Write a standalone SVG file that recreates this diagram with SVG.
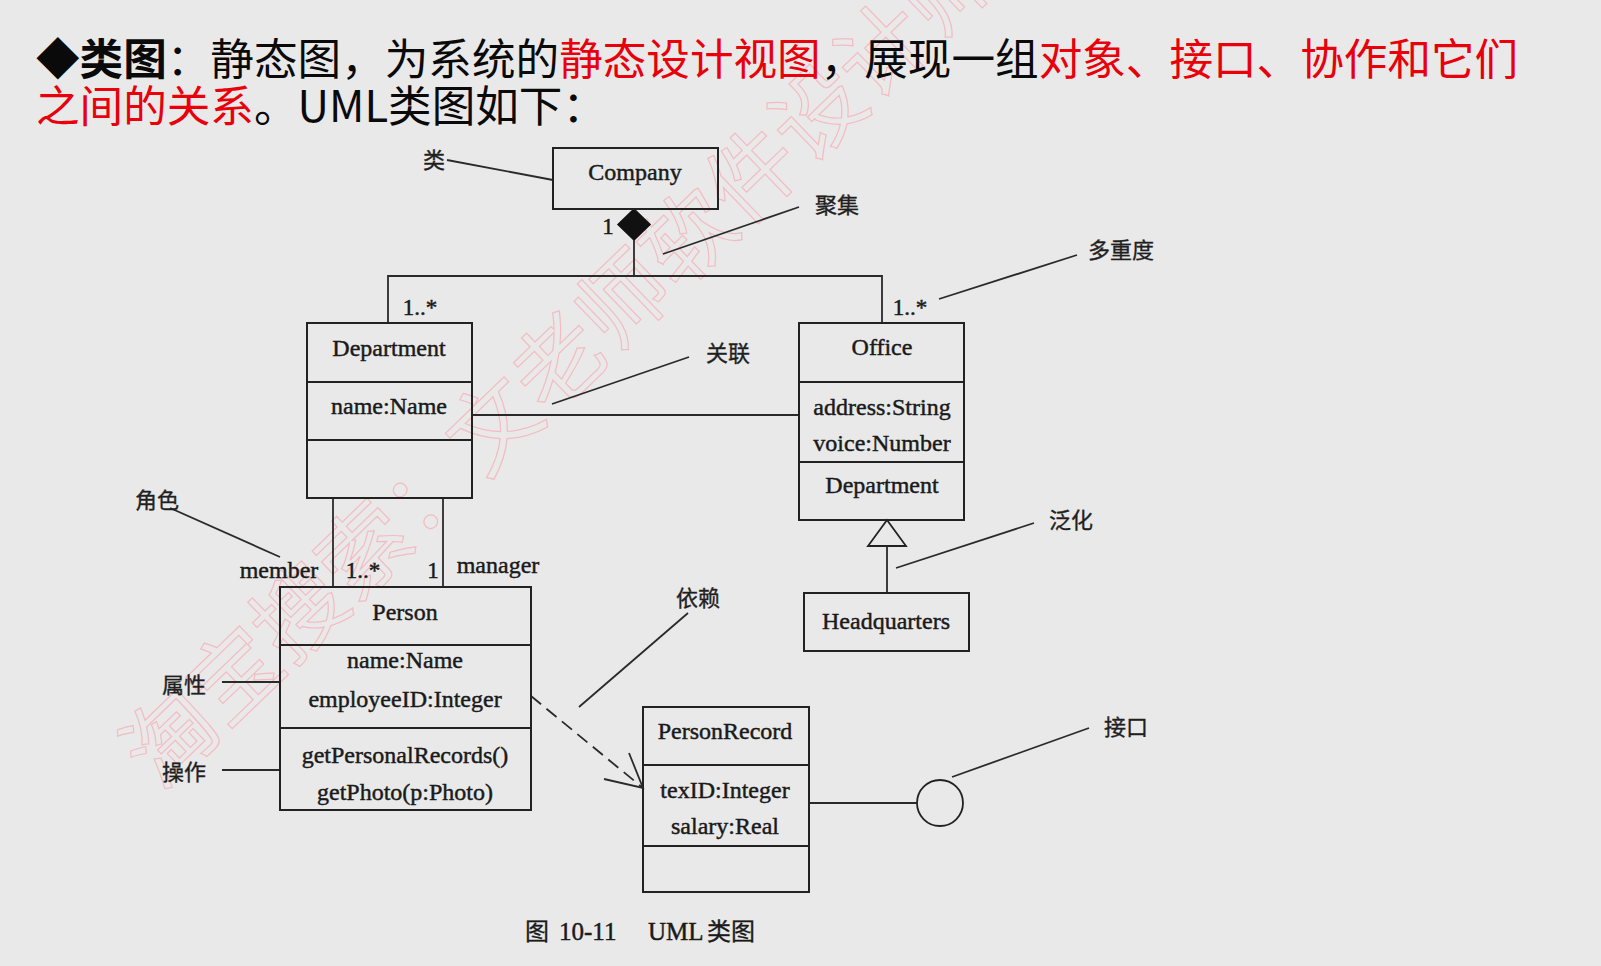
<svg xmlns="http://www.w3.org/2000/svg" width="1601" height="966" viewBox="0 0 1601 966">
<style>
.bx{fill:none;stroke:#222;stroke-width:2}
.ln{fill:none;stroke:#2a2a2a;stroke-width:1.8}
.t{font-family:"Liberation Serif","Times New Roman",serif;font-size:24px;fill:#1a1a1a;stroke:#1a1a1a;stroke-width:0.45;text-anchor:middle}
.m{font-family:"Liberation Serif","Times New Roman",serif;font-size:23px;fill:#1a1a1a;stroke:#1a1a1a;stroke-width:0.45}
.lb{font-family:"Noto Sans CJK SC",sans-serif;font-size:22px;fill:#1f1f1f;stroke:#1f1f1f;stroke-width:0.35;text-anchor:middle}
.ti{font-family:"Noto Sans CJK SC",sans-serif;font-size:43.6px;fill:#0a0a0a}
.r{fill:#e8000b}
</style>
<rect x="0" y="0" width="1601" height="966" fill="#e9e9e9"/>

<g id="watermark" transform="translate(160,792) rotate(-44)">
<text x="0" y="0" font-family="'Noto Sans CJK SC',sans-serif" font-size="90" fill="none" stroke="#f3bcc3" stroke-width="1.2">淘宝搜索：文老师软件设计师</text>
</g>

<g id="title">
<text class="ti" x="36" y="75"><tspan font-weight="bold">◆类图</tspan>：静态图，为系统的<tspan class="r">静态设计视图</tspan>，展现一组<tspan class="r">对象、接口、协作和它们</tspan></text>
<text class="ti" x="36" y="122"><tspan class="r">之间的关系</tspan>。UML类图如下：</text>
</g>

<g id="connectors">
<polygon points="634,209 650,224.5 634,240 618,224.5" fill="#111" stroke="#111" stroke-width="1.5"/>
<polyline class="ln" points="634,240 634,276"/>
<polyline class="ln" points="388,323 388,276 882,276 882,323"/>
<line class="ln" x1="472" y1="415" x2="799" y2="415"/>
<line class="ln" x1="333" y1="498" x2="333" y2="587"/>
<line class="ln" x1="443" y1="498" x2="443" y2="587"/>
<polygon points="887,520 868,546 906,546" fill="#e9e9e9" stroke="#222" stroke-width="1.8"/>
<line class="ln" x1="887" y1="546" x2="887" y2="593"/>
<line class="ln" x1="531" y1="696" x2="643" y2="788" stroke-dasharray="13,7"/>
<polyline class="ln" points="629,753 643,788 604,779"/>
<line class="ln" x1="809" y1="803" x2="917" y2="803"/>
<circle cx="940" cy="803" r="23" fill="none" stroke="#222" stroke-width="1.8"/>
<line class="ln" x1="447" y1="160" x2="553" y2="180"/>
<line class="ln" x1="799" y1="207" x2="663" y2="254"/>
<line class="ln" x1="1077" y1="255" x2="939" y2="299"/>
<line class="ln" x1="689" y1="357" x2="552" y2="404"/>
<line class="ln" x1="1034" y1="523" x2="896" y2="568"/>
<line class="ln" x1="170" y1="508" x2="280" y2="557"/>
<line class="ln" x1="222" y1="682" x2="280" y2="682"/>
<line class="ln" x1="222" y1="770" x2="280" y2="770"/>
<line class="ln" x1="688" y1="613" x2="579" y2="707"/>
<line class="ln" x1="1089" y1="728" x2="952" y2="777"/>
</g>

<g id="company">
<rect class="bx" x="553" y="148" width="165" height="61"/>
<text class="t" x="635" y="180">Company</text>
</g>

<g id="department">
<rect class="bx" x="307" y="323" width="165" height="175"/>
<line class="bx" x1="307" y1="382" x2="472" y2="382"/>
<line class="bx" x1="307" y1="440" x2="472" y2="440"/>
<text class="t" x="389" y="356">Department</text>
<text class="t" x="389" y="414">name:Name</text>
</g>

<g id="office">
<rect class="bx" x="799" y="323" width="165" height="197"/>
<line class="bx" x1="799" y1="382" x2="964" y2="382"/>
<line class="bx" x1="799" y1="462" x2="964" y2="462"/>
<text class="t" x="882" y="355">Office</text>
<text class="t" x="882" y="415">address:String</text>
<text class="t" x="882" y="451">voice:Number</text>
<text class="t" x="882" y="493">Department</text>
</g>

<g id="headquarters">
<rect class="bx" x="804" y="593" width="165" height="58"/>
<text class="t" x="886" y="629">Headquarters</text>
</g>

<g id="person">
<rect class="bx" x="280" y="587" width="251" height="223"/>
<line class="bx" x1="280" y1="645" x2="531" y2="645"/>
<line class="bx" x1="280" y1="728" x2="531" y2="728"/>
<text class="t" x="405" y="620">Person</text>
<text class="t" x="405" y="668">name:Name</text>
<text class="t" x="405" y="707">employeeID:Integer</text>
<text class="t" x="405" y="763">getPersonalRecords()</text>
<text class="t" x="405" y="800">getPhoto(p:Photo)</text>
</g>

<g id="personrecord">
<rect class="bx" x="643" y="707" width="166" height="185"/>
<line class="bx" x1="643" y1="765" x2="809" y2="765"/>
<line class="bx" x1="643" y1="846" x2="809" y2="846"/>
<text class="t" x="725" y="739">PersonRecord</text>
<text class="t" x="725" y="798">texID:Integer</text>
<text class="t" x="725" y="834">salary:Real</text>
</g>

<g id="multiplicities">
<text class="m" x="608" y="234" text-anchor="middle">1</text>
<text class="m" x="420" y="315" text-anchor="middle">1..*</text>
<text class="m" x="910" y="315" text-anchor="middle">1..*</text>
<text class="m" x="363" y="578" text-anchor="middle">1..*</text>
<text class="m" x="433" y="578" text-anchor="middle">1</text>
<text class="t" x="279" y="578">member</text>
<text class="t" x="498" y="573">manager</text>
</g>

<g id="annotations">
<text class="lb" x="434" y="168">类</text>
<text class="lb" x="837" y="213">聚集</text>
<text class="lb" x="1121" y="258">多重度</text>
<text class="lb" x="728" y="361">关联</text>
<text class="lb" x="1071" y="528">泛化</text>
<text class="lb" x="157" y="508">角色</text>
<text class="lb" x="184" y="693">属性</text>
<text class="lb" x="184" y="780">操作</text>
<text class="lb" x="698" y="606">依赖</text>
<text class="lb" x="1126" y="735">接口</text>
</g>

<g id="caption">
<text x="525" y="940" font-family="'Noto Sans CJK SC',sans-serif" font-size="24" fill="#1a1a1a" stroke="#1a1a1a" stroke-width="0.35">图</text>
<text x="559" y="940" font-family="'Liberation Serif',serif" font-size="25" fill="#1a1a1a" stroke="#1a1a1a" stroke-width="0.45">10-11</text>
<text x="648" y="940" font-family="'Liberation Serif',serif" font-size="25" fill="#1a1a1a" stroke="#1a1a1a" stroke-width="0.45">UML</text>
<text x="707" y="940" font-family="'Noto Sans CJK SC',sans-serif" font-size="24" fill="#1a1a1a" stroke="#1a1a1a" stroke-width="0.35">类图</text>
</g>
</svg>
